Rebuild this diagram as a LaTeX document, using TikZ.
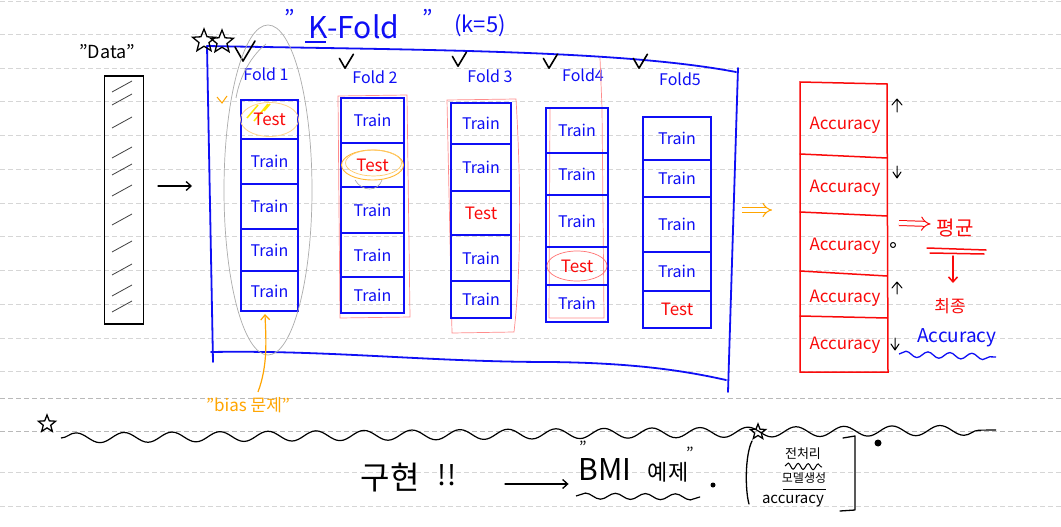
\documentclass[tikz,border=0pt]{standalone}
\usepackage{fontspec}
\setmainfont{Noto Sans CJK KR}
\usetikzlibrary{arrows.meta,shapes.geometric,decorations.pathmorphing,calc}
\definecolor{pen}{RGB}{15,15,245}
\definecolor{rd}{RGB}{250,10,10}
\definecolor{org}{RGB}{255,165,0}
\definecolor{ruled}{RGB}{214,214,214}
\definecolor{ruleddark}{RGB}{185,185,185}
\newcommand{\fsz}[1]{\fontsize{#1}{#1}\selectfont}
\begin{document}
\begin{tikzpicture}[x=1pt,y=-1pt,
  rule/.style={ruled,line width=0.9pt,dash pattern=on 5pt off 3pt},
  ruledk/.style={ruleddark,line width=1pt,dash pattern=on 5pt off 3pt},
  lbl/.style={inner sep=0pt,outer sep=0pt},
  foldline/.style={pen,line width=1.8pt,line cap=round},
  trainlbl/.style={lbl,pen,font=\fsz{16}},
  testlbl/.style={lbl,rd,font=\fsz{17}},
  foldlbl/.style={lbl,pen,font=\fsz{16}},
  acclbl/.style={lbl,rd,font=\fsz{17}},
  redline/.style={rd,line width=1.5pt,line cap=round},
  ink/.style={black,line width=1.3pt,line cap=round,line join=round},
  barb/.style={-{Straight Barb[length=5pt,width=9pt]}},
  wavy/.style={decorate,decoration={snake,segment length=#1,amplitude=3pt}},
  starmark/.style={star,star points=5,star point ratio=2.3,draw,black,line width=1.3pt,inner sep=0pt,minimum size=#1}
]
\useasboundingbox (0,0) rectangle (1061,527);
\fill[white] (0,0) rectangle (1061,527);
% ruled notebook lines
\foreach \y in {1,34,68,101,135,169,203,236,270,304,338,371,472,506}
  \draw[rule] (0,\y) -- (1061,\y);
\foreach \y in {398,431}
  \draw[ruledk] (0,\y) -- (1061,\y);

% ---------- Data ----------
\node[lbl,font=\fsz{18}] (datalbl) at (107,52) {"Data"};
\node[draw,line width=1.3pt,minimum width=39pt,minimum height=248pt,inner sep=0pt] (data) at (124,200) {};
\foreach \y in {92,105,128,158,175,196,225,252,275,296,312}
  \draw[black!75,line width=0.8pt] (112,\y) -- ++(20,-11);
\coordinate (arrA) at (158,186);
\coordinate (arrB) at (192,186);
\draw[ink,barb] (arrA) -- (arrB);

% ---------- title ----------
\node[lbl,pen,font=\fsz{22}] (q1) at (290,18) {"};
\node[lbl,pen,font=\fsz{30}] (kfold) at (354,27) {K-Fold};
\draw[pen,line width=1.5pt] (305,42) -- (326,42);
\node[lbl,pen,font=\fsz{22}] (q2) at (428,18) {"};
\node[lbl,pen,font=\fsz{22}] (kval) at (480,26) {(k=5)};

% ---------- frame ----------
\draw[foldline] (207,46) .. controls (420,50) and (620,50) .. (736,72);
\draw[foldline] (738,68) -- (728,392);
\draw[foldline] (207,46) -- (213,362);
\draw[foldline] (211,352) .. controls (330,350) and (430,362) .. (550,362) .. controls (640,363) and (690,372) .. (726,380);
\node[starmark=24pt] (st1) at (204,41) {};
\node[starmark=24pt] (st2) at (222,42) {};

% checkmarks
\foreach \x/\y/\s in {243/55/2,345/64/1.4,458/62/1.4,549/64/1.4,639/64/1.4}
  \draw[ink,line width=1.6pt] (\x-4*\s,\y-4*\s) -- (\x,\y+3*\s) -- (\x+6*\s,\y-7*\s);
\draw[org,line width=1pt] (217,97) -- (222,103) -- (227,96);

% fold labels
\node[foldlbl] (fl1) at (266,74) {Fold 1};
\node[foldlbl] (fl2) at (375,77) {Fold 2};
\node[foldlbl] (fl3) at (490,76) {Fold 3};
\node[foldlbl] (fl4) at (583,75) {Fold4};
\node[foldlbl] (fl5) at (680,79) {Fold5};

% highlights behind fold cells
\draw[red!45,line width=0.7pt] (338,96) -- (407,95) -- (410,317) -- (340,318) -- cycle;
\draw[red!45,line width=0.7pt] (447,100) -- (516,99) .. controls (522,200) and (520,280) .. (514,332) -- (452,333) -- cycle;
\draw[red!45,line width=0.7pt] (550,108) -- (602,108) -- (604,318) -- (549,318) -- cycle;
\draw[red!45,line width=0.7pt] (602,108) -- (600,58);
\draw[yellow!90!orange,line width=1.5pt] (247,118) -- (258,105) (254,121) -- (268,104) (264,111) -- (270,104);

% ---------- fold columns ----------
\foreach \i/\xl/\xr/\ya/\yb/\yc/\yd/\ye/\yf/\t in {
  1/241/298/100/139/184/229/271/311/1,
  2/341/404/98/143/187/233/277/313/2,
  3/451/511/103/144/191/235/281/318/3,
  4/546/608/108/153/195/247/285/322/4,
  5/643/711/117/160/197/252/291/328/5}
{
  \draw[foldline] (\xl,\ya) rectangle (\xr,\yf);
  \foreach \yy in {\yb,\yc,\yd,\ye}
    \draw[foldline] (\xl,\yy) -- (\xr,\yy);
  \foreach \k/\ytop/\ybot in {1/\ya/\yb,2/\yb/\yc,3/\yc/\yd,4/\yd/\ye,5/\ye/\yf}
  {
    \ifnum\k=\t
      \node[testlbl] (f\i c\k) at ({(\xl+\xr)/2},{(\ytop+\ybot)/2}) {Test};
    \else
      \node[trainlbl] (f\i c\k) at ({(\xl+\xr)/2},{(\ytop+\ybot)/2}) {Train};
    \fi
  }
}

% circles around tests
\draw[org!45,line width=0.8pt] (f1c1) ellipse [x radius=29pt,y radius=17pt];
\draw[org!80,line width=0.9pt] (f2c2) ellipse [x radius=31pt,y radius=15pt];
\draw[org!60,line width=0.7pt] ($(f2c2)+(1,-2)$) ellipse [x radius=28pt,y radius=13pt];
\draw[gray!70,line width=0.6pt] (355,180) .. controls (362,192) and (378,192) .. (382,180);
\draw[red!55,line width=0.7pt] (f4c4) ellipse [x radius=30pt,y radius=15pt];

% gray lasso around fold 1
\draw[gray!65,line width=0.7pt] (268,190) ellipse [x radius=44pt,y radius=165pt];
\draw[gray!65,line width=0.7pt] (236,98) .. controls (240,75) and (252,55) .. (266,44);

% bias
\node[lbl,org,font=\fsz{17}] (bias) at (248,405) {"bias 문제"};
\coordinate (biasTip) at (265,314);
\draw[org,line width=1.2pt,barb] (258,392) .. controls (268,365) and (266,340) .. (biasTip);

% ---------- accuracy column ----------
\coordinate (oA) at (742,210);
\coordinate (oB) at (772,210);
\draw[org,line width=1pt,double distance=4pt,-{Implies}] (oA) -- (oB);
\draw[redline] (800,82) -- (887,84) -- (888,372) -- (800,372) -- cycle;
\foreach \y/\yr in {154/158,212/216,271/276,316/318}
  \draw[redline] (800,\y) -- (887,\yr);
\foreach \k/\y in {1/125,2/188,3/246,4/298,5/345}
  \node[acclbl] (acc\k) at (845,\y) {Accuracy};

% small marks
\draw[ink,line width=1pt] (897,112) -- (897,99) (892,105) -- (897,99) -- (902,105);
\draw[ink,line width=1pt] (897,166) -- (897,178) (893,172) -- (897,178) -- (901,172);
\draw[ink,line width=1pt] (893,245) circle [radius=2.5pt];
\draw[ink,line width=1pt] (897,294) -- (897,282) (892,288) -- (897,282) -- (902,288);
\draw[ink,line width=1pt] (895,338) -- (895,350) (891,344) -- (895,350) -- (899,344);

% average / final
\coordinate (rA) at (899,223);
\node[lbl,rd,font=\fsz{20}] (avg) at (955,228) {평균};
\draw[rd,line width=1pt,double distance=4pt,-{Implies}] (rA) -- ($(avg.west)+(-6,-4)$);
\draw[redline] (927,248) -- (986,250) (930,253) -- (984,254);
\node[lbl,rd,font=\fsz{17}] (final) at (950,306) {최종};
\coordinate (fTop) at (953,283);
\draw[redline,barb] (953,256) -- (fTop);
\node[lbl,pen,font=\fsz{19}] (accf) at (957,338) {Accuracy};
\draw[pen,line width=1.3pt,wavy=22pt] (899,354) -- (996,357);

% ---------- bottom ----------
\node[starmark=18pt] (st3) at (47,424) {};
\draw[black,line width=1.2pt,decorate,decoration={snake,segment length=48pt,amplitude=5pt}] (61,438) -- (996,430);

\node[lbl,font=\fsz{32}] (impl) at (390,478) {구현};
\node[lbl,font=\fsz{28}] (bang) at (447,475) {!!};
\coordinate (bA) at (505,484);
\node[lbl,font=\fsz{30}] (bmi) at (605,470) {BMI};
\node[lbl,font=\fsz{22}] (ex) at (668,472) {예제};
\draw[ink,barb] (bA) -- ($(bmi.west)+(-10,14)$);
\node[lbl,font=\fsz{16}] (q3) at (583,447) {"};
\node[lbl,font=\fsz{16}] (q4) at (690,453) {"};
\draw[black,line width=1.2pt,wavy=30pt] (576,496) -- (700,497);
\fill (713,485) circle [radius=2.5pt];

\draw[ink] (752,441) .. controls (745,455) and (745,490) .. (749,504);
\draw[ink] (843,438) -- (855,436) -- (855,510) -- (840,511);
\node[starmark=16pt] (st4) at (758,432) {};
\node[lbl,font=\fsz{13}] (pre) at (803,454) {전처리};
\draw[black,line width=1pt,wavy=10pt] (785,466) -- (822,467);
\node[lbl,font=\fsz{12}] (model) at (804,478) {모델생성};
\draw[black,line width=1pt] (783,489) -- (826,489);
\node[lbl,font=\fsz{15}] (accb) at (793,501) {accuracy};
\fill (878,443) circle [radius=3.5pt];
\end{tikzpicture}
\end{document}
